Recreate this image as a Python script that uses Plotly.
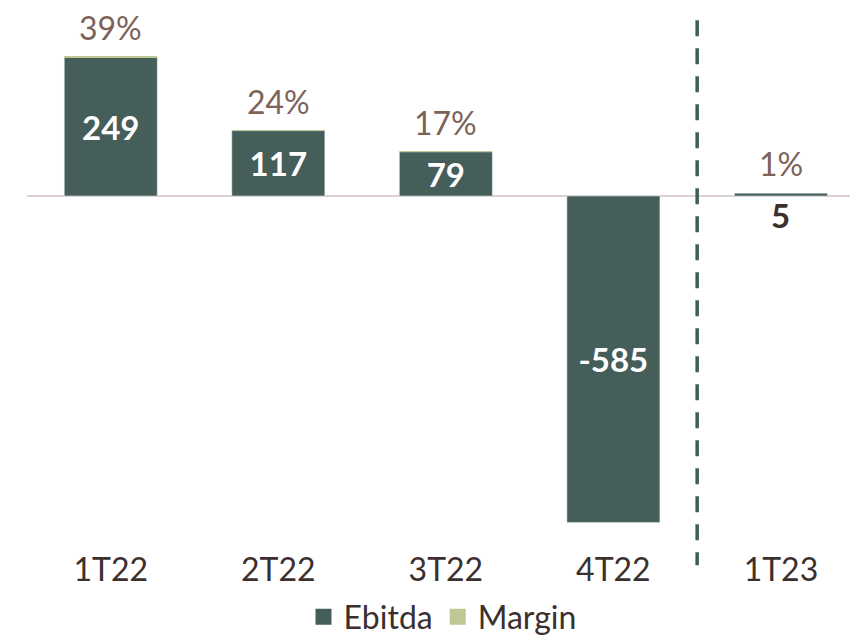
import plotly.graph_objects as go

categories = ["1T22", "2T22", "3T22", "4T22", "1T23"]
ebitda = [249, 117, 79, -585, 5]
margin = [0.39, 0.24, 0.17, None, 0.01]
margin_labels = ["39%", "24%", "17%", "", "1%"]

DARK = "#455e59"
LIGHT = "#bfc794"
TXT = "#3b302e"
MTXT = "#7d6259"
FONT = "Lato"

fig = go.Figure()

inside_pos = ["inside" if abs(v) > 20 else "none" for v in ebitda]
fig.add_trace(go.Bar(
    x=categories, y=ebitda, name="Ebitda", marker_color=DARK,
    text=[str(v) for v in ebitda], textposition=inside_pos,
    insidetextanchor="middle", textangle=0, constraintext="none",
    textfont=dict(family=FONT, size=33, color="white", weight="bold"),
    showlegend=False, width=0.555,
))
fig.add_trace(go.Bar(
    x=categories, y=margin, name="Margin", marker_color=LIGHT,
    marker_line_width=0,
    showlegend=False, width=0.555,
))

# legend entries
for nm, col in [("Ebitda", DARK), ("Margin", LIGHT)]:
    fig.add_trace(go.Scatter(x=[None], y=[None], mode="markers", name=nm,
                             marker=dict(symbol="square", size=22, color=col)))

# margin labels
for c, v, m, lab in zip(categories, ebitda, margin, margin_labels):
    if lab:
        fig.add_annotation(x=c, y=max(v, 0) + (m or 0), text=lab, showarrow=False,
                           yanchor="bottom", yshift=9, borderpad=0,
                           font=dict(family=FONT, size=32, color=MTXT))
# small value labels below zero line
for c, v in zip(categories, ebitda):
    if abs(v) <= 20:
        fig.add_annotation(x=c, y=0, text=f"<b>{v}</b>", showarrow=False,
                           yanchor="top", yshift=3,
                           font=dict(family=FONT, size=33, color=TXT))

# dashed separator between 4T22 and 1T23
fig.add_shape(type="line", xref="x", yref="paper", x0=3.5, x1=3.5,
              y0=0.981, y1=-0.032,
              line=dict(color="#3f5d55", width=3.5, dash="16px,12px"))

fig.update_layout(
    width=858, height=637,
    margin=dict(l=19, r=8, t=2, b=97, autoexpand=False),
    plot_bgcolor="white", paper_bgcolor="white",
    barmode="relative", bargap=0.445,
    font=dict(family=FONT, size=32, color=TXT),
    xaxis=dict(range=[-0.5, 4.46], showgrid=False, showline=False, automargin=False,
               ticks="", tickfont=dict(family=FONT, size=32, color=TXT)),
    yaxis=dict(range=[-630.8, 333.3], showgrid=False, showticklabels=False,
               automargin=False,
               zeroline=True, zerolinecolor="#dcd3d1", zerolinewidth=1.5),
    legend=dict(orientation="h", x=0.5, xanchor="center",
                yref="container", y=0.044, yanchor="middle",
                font=dict(family=FONT, size=32, color=TXT), itemwidth=30,
                tracegroupgap=0),
    showlegend=True,
)

fig.write_html("out.html")
